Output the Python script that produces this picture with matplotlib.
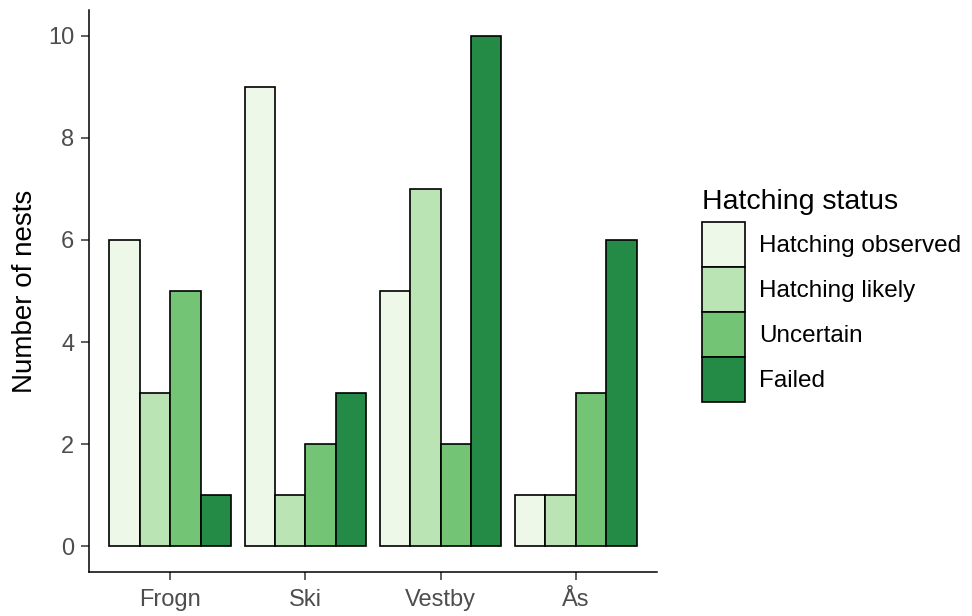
import numpy as np
import matplotlib.pyplot as plt
import matplotlib as mpl
from matplotlib.patches import Patch

mpl.rcParams.update({
    'font.family': ['Liberation Sans', 'DejaVu Sans'],
})

# data
municipalities = ['Frogn', 'Ski', 'Vestby', 'Ås']
statuses = ['Hatching observed', 'Hatching likely', 'Uncertain', 'Failed']
hatching_observed = [6, 9, 5, 1]
hatching_likely = [3, 1, 7, 1]
uncertain = [5, 2, 2, 3]
failed = [1, 3, 10, 6]
colors = ['#EDF8E9', '#BAE4B3', '#74C476', '#238B45']

series = [hatching_observed, hatching_likely, uncertain, failed]

fig = plt.figure(figsize=(9.72, 6.16), dpi=100)
ax = fig.add_axes([89 / 972, 1 - 572 / 616, (657 - 89) / 972, (572 - 10) / 616])

x = np.arange(1, len(municipalities) + 1)
w = 0.9 / 4
for i, vals in enumerate(series):
    ax.bar(x - 0.45 + w * (i + 0.5), vals, width=w, color=colors[i],
           edgecolor='black', linewidth=1.2, label=statuses[i])

ax.set_xlim(0.4, 4.6)
ax.set_ylim(-0.5, 10.5)
ax.set_xticks(x)
ax.set_xticklabels(municipalities)
ax.set_yticks([0, 2, 4, 6, 8, 10])
ax.tick_params(colors='#333333', labelcolor='#4D4D4D', labelsize=17, length=5.5,
               width=1.1)
ax.tick_params(axis='x', pad=7)
ax.tick_params(axis='y', pad=5)
for s in ['top', 'right']:
    ax.spines[s].set_visible(False)
for s in ['left', 'bottom']:
    ax.spines[s].set_linewidth(1.1)
ax.set_ylabel('Number of nests', fontsize=20, labelpad=7)

handles = [Patch(facecolor=c, edgecolor='black', linewidth=1.2) for c in colors]
leg = fig.legend(handles, statuses, title='Hatching status', loc='upper left',
                 bbox_to_anchor=(685 / 972, 1 - 172 / 616), frameon=False,
                 fontsize=17.5, title_fontsize=20.5, handlelength=1.75,
                 handleheight=2.47, labelspacing=0.0, handletextpad=0.6,
                 borderpad=0.2)
leg._legend_box.align = 'left'
leg._legend_box.sep = 5

fig.savefig('out.png', dpi=100)
